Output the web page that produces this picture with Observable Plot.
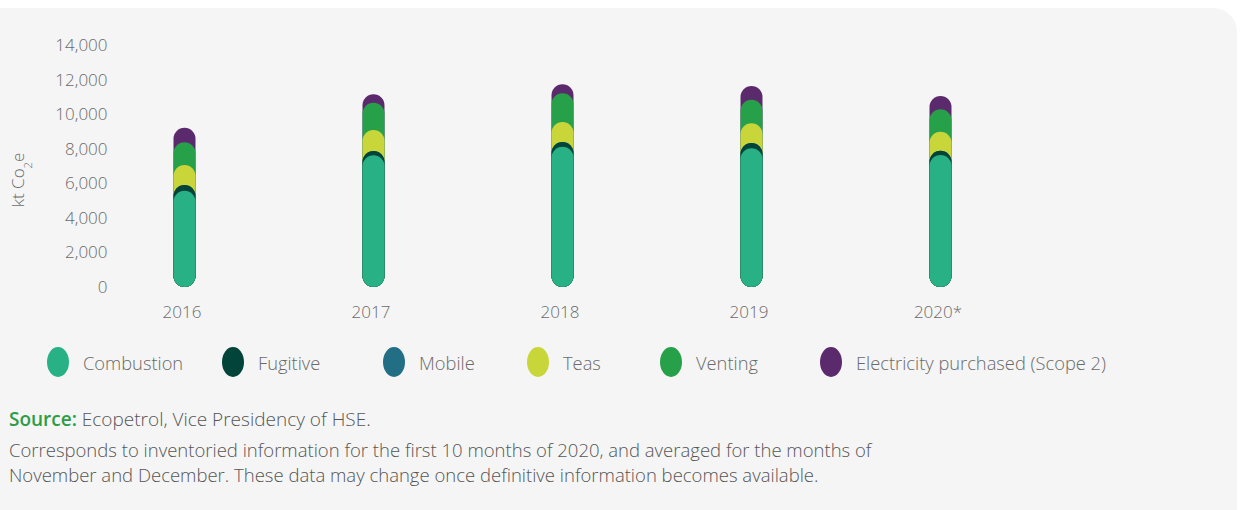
<!DOCTYPE html>
<html>
<head>
<meta charset="utf-8">
<script src="https://cdn.jsdelivr.net/npm/d3@7"></script>
<script src="https://cdn.jsdelivr.net/npm/@observablehq/plot@0.6"></script>
<style>
  html, body { margin: 0; padding: 0; background: #ffffff; width: 1245px; height: 510px; overflow: hidden; }
  body { font-family: "Open Sans", sans-serif; font-weight: 300; color: #666; position: relative; }
  #panel { position: absolute; left: 0; top: 8px; width: 1237px; height: 502px; background: #f5f5f5; border-top-right-radius: 24px; }
  #chart { position: absolute; left: 0; top: 0; }
  #chart svg text { font-weight: 300; }
  #legend { position: absolute; left: 0; top: 347px; height: 30px; width: 1245px; }
  .item { position: absolute; top: 0; height: 30px; display: flex; align-items: center; white-space: nowrap; }
  .sw { width: 22px; height: 30px; border-radius: 50%; margin-right: 14px; }
  .lab { font-size: 18.3px; color: #6a6a6a; }
  #source { position: absolute; left: 9px; top: 406px; font-size: 19px; color: #555; white-space: nowrap; }
  #source .s { color: #2d9d46; font-weight: 600; }
  #note { position: absolute; left: 9px; top: 437px; font-size: 18.5px; line-height: 25px; color: #555; width: 1000px; white-space: nowrap; }
</style>
</head>
<body>
<div id="panel"></div>
<div id="chart"></div>
<div id="legend"></div>
<div id="source"><span class="s">Source:</span> Ecopetrol, Vice Presidency of HSE.</div>
<div id="note">Corresponds to inventoried information for the first 10 months of 2020, and averaged for the months of<br>November and December. These data may change once definitive information becomes available.</div>
<script>
const years = ["2016", "2017", "2018", "2019", "2020*"];
const series = ["Combustion", "Fugitive", "Mobile", "Teas", "Venting", "Electricity purchased (Scope 2)"];
const colors = ["#27b185", "#02433a", "#226f85", "#c9d63a", "#27a04a", "#5b2a6c"];
const combustion = [5570, 7620, 8115, 8020, 7635];
const fugitive = [330, 245, 270, 310, 250];
const mobile = [0, 0, 0, 0, 0];
const teas = [1160, 1215, 1160, 1140, 1100];
const venting = [1310, 1580, 1660, 1365, 1295];
const electricity = [845, 485, 520, 790, 770];
const yTicks = [0, 2000, 4000, 6000, 8000, 10000, 12000, 14000];

const values = [combustion, fugitive, mobile, teas, venting, electricity];
const rows = [];
years.forEach((yr, i) => {
  let cum = 0;
  series.forEach((s, j) => {
    cum += values[j][i];
    rows.push({year: yr, series: s, order: j, top: cum});
  });
});
// draw upper segments first, so lower capsules overlap them
rows.sort((a, b) => b.order - a.order);

const chart = Plot.plot({
  width: 1245,
  height: 330,
  marginLeft: 115,
  marginTop: 45,
  marginBottom: 43,
  marginRight: 210,
  style: {background: "transparent", fontFamily: "Open Sans", fontSize: "17px", color: "#6a6a6a"},
  x: {type: "band", domain: years, range: [89.5, 1034.5], padding: 0, axis: null},
  y: {domain: [0, 14000], axis: null},
  color: {domain: series, range: colors},
  marks: [
    Plot.axisY({ticks: yTicks, tickSize: 0, tickPadding: 8, label: null, tickFormat: d3.format(",")}),
    Plot.axisX({tickSize: 0, tickPadding: 18, label: null, dx: -3}),
    Plot.barY(rows, {x: "year", y1: 0, y2: "top", fill: "series", insetLeft: 83.5, insetRight: 83.5, rx: 11})
  ]
});
document.getElementById("chart").appendChild(chart);

// y-axis title with subscript
const svg = d3.select(chart);
const t = svg.append("text")
  .attr("transform", "translate(24,180) rotate(-90)")
  .attr("text-anchor", "middle")
  .attr("fill", "#6a6a6a")
  .style("font-size", "17px")
  .style("font-weight", 300);
t.append("tspan").text("kt Co");
t.append("tspan").attr("baseline-shift", "sub").style("font-size", "11px").text("2");
t.append("tspan").text("e");

// legend
const legendX = [47, 222, 383, 527, 660, 820];
const legend = document.getElementById("legend");
series.forEach((s, i) => {
  const it = document.createElement("div");
  it.className = "item";
  it.style.left = legendX[i] + "px";
  it.innerHTML = `<div class="sw" style="background:${colors[i]}"></div><span class="lab">${s}</span>`;
  legend.appendChild(it);
});
</script>
</body>
</html>
